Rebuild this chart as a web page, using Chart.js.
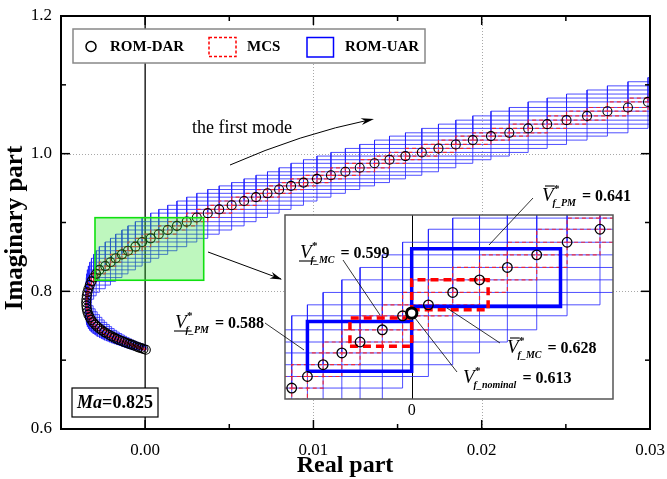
<!DOCTYPE html>
<html>
<head>
<meta charset="utf-8">
<script src="https://cdn.jsdelivr.net/npm/chart.js@4.4.1/dist/chart.umd.min.js"></script>
<style>
  html, body { margin: 0; padding: 0; background: #fff; }
  #wrap { position: relative; width: 667px; height: 479px; }
  #main { position: absolute; left: 0; top: 0; }
  #zoom { position: absolute; left: 150px; top: 170px; }
</style>
</head>
<body>
<div id="wrap">
  <canvas id="main" width="667" height="479"></canvas>
  <canvas id="zoom" width="500" height="260"></canvas>
</div>
<script>
// ROM-DAR eigenvalue trace of the first mode (Ma = 0.825), ordered by increasing velocity
const realPart = [
  0.00004, -0.00010, -0.00024, -0.00039, -0.00053, -0.00067, -0.00081, -0.00095, -0.00110, -0.00124,
  -0.00139, -0.00154, -0.00169, -0.00184, -0.00199, -0.00213, -0.00228, -0.00243, -0.00257, -0.00271,
  -0.00285, -0.00297, -0.00309, -0.00320, -0.00329, -0.00337, -0.00343, -0.00347, -0.00349, -0.00350,
  -0.00349, -0.00347, -0.00343, -0.00337, -0.00329, -0.00319, -0.00306, -0.00291, -0.00272,
  -0.00237, -0.00206, -0.00175, -0.00138, -0.00102, -0.00058, -0.00018, 0.00033, 0.00081, 0.00134,
  0.00189, 0.00247, 0.00307, 0.00372,
  0.00440, 0.00514, 0.00588, 0.00659, 0.00727, 0.00796, 0.00867, 0.00941, 0.01021, 0.01104,
  0.01190, 0.01275, 0.01363, 0.01452, 0.01547, 0.01644, 0.01743, 0.01846, 0.01947, 0.02055,
  0.02164, 0.02276, 0.02389, 0.02504, 0.02626, 0.02747, 0.02869, 0.02988,
  0.03108, 0.03228, 0.03348, 0.03468, 0.03588, 0.03708
];
const imagPart = [
  0.7152, 0.7163, 0.7175, 0.7186, 0.7199, 0.7213, 0.7226, 0.7237, 0.7249, 0.7263,
  0.7278, 0.7292, 0.7310, 0.7327, 0.7346, 0.7366, 0.7387, 0.7408, 0.7433, 0.7459,
  0.7487, 0.7517, 0.7549, 0.7584, 0.7622, 0.7661, 0.7703, 0.7746, 0.7791, 0.7838,
  0.7885, 0.7935, 0.7986, 0.8038, 0.8091, 0.8145, 0.8200, 0.8254, 0.8312,
  0.8367, 0.8423, 0.8480, 0.8537, 0.8590, 0.8649, 0.8717, 0.8770, 0.8830, 0.8891,
  0.8951, 0.9012, 0.9073, 0.9136,
  0.9190, 0.9250, 0.9312, 0.9368, 0.9424, 0.9479, 0.9532, 0.9580, 0.9634, 0.9686,
  0.9737, 0.9795, 0.9860, 0.9912, 0.9965, 1.0018, 1.0076, 1.0134, 1.0197, 1.0255,
  1.0303, 1.0367, 1.0429, 1.0487, 1.0549, 1.0617, 1.0671, 1.0752,
  1.0808, 1.0866, 1.0925, 1.0985, 1.1045, 1.1105
];

// Interval boxes reach this many DAR steps either side of their centre point
const uarReachReal = 3, uarReachImag = 3;
const mcsReachReal = 1, mcsReachImag = 1;

// Flutter-boundary boxes shown in the magnified view: [reMin, reMax, imMin, imMax]
const uarBoxLower = [-0.00206, 0, 0.8448, 0.8689];   // V*_f_PM lower bound
const uarBoxUpper = [0, 0.00294, 0.8762, 0.9041];    // V*_f_PM upper bound
const mcsBoxLower = [-0.00122, 0, 0.8569, 0.8706];   // V*_f_MC lower bound
const mcsBoxUpper = [0, 0.00151, 0.8746, 0.8891];    // V*_f_MC upper bound
const nominalPoint = [0, 0.8730];

// Flutter speeds labelled in the magnified view
const vPmLower = '0.588', vPmUpper = '0.641';
const vMcLower = '0.599', vMcUpper = '0.628';
const vNominal = '0.613';

// Axes
const xRange = [-0.005, 0.03];
const yRange = [0.6, 1.2];
const xTickValues = [0, 0.01, 0.02, 0.03];
const xTickLabels = ['0.00', '0.01', '0.02', '0.03'];
const xMinorTicks = [-0.005, 0.005, 0.015, 0.025];
const yTickValues = [0.6, 0.8, 1.0, 1.2];
const yTickLabels = ['0.6', '0.8', '1.0', '1.2'];
const yMinorTicks = [0.7, 0.9, 1.1];
const gridX = [0.01, 0.02];
const gridY = [0.8, 1.0];

// Region enlarged in the inset, and the inset's own axis limits
const zoomRegion = [-0.00298, 0.00348, 0.8161, 0.9070];
const insetX = [-0.002503, 0.003977];
const insetY = [0.8314, 0.9205];

const machLabel = '=0.825';
const modeLabel = 'the first mode';

const SERIF = '"Liberation Serif", "Times New Roman", serif';

function rectPts(b) {
  return [{x: b[0], y: b[2]}, {x: b[1], y: b[2]}, {x: b[1], y: b[3]}, {x: b[0], y: b[3]}, {x: b[0], y: b[2]}];
}

// Each interval box bounds the DAR points within the given reach of point i
function intervalBoxes(xs, ys, rx, ry) {
  const pts = [];
  const n = xs.length;
  for (let i = 0; i < n; i++) {
    let x0 = Infinity, x1 = -Infinity, y0 = Infinity, y1 = -Infinity;
    for (let j = Math.max(0, i - rx); j <= Math.min(n - 1, i + rx); j++) {
      x0 = Math.min(x0, xs[j]); x1 = Math.max(x1, xs[j]);
    }
    for (let j = Math.max(0, i - ry); j <= Math.min(n - 1, i + ry); j++) {
      y0 = Math.min(y0, ys[j]); y1 = Math.max(y1, ys[j]);
    }
    pts.push(...rectPts([x0, x1, y0, y1]), {x: null, y: null});
  }
  return pts;
}

const darPoints = realPart.map((v, i) => ({x: v, y: imagPart[i]}));
const uarBoxes = intervalBoxes(realPart, imagPart, uarReachReal, uarReachImag);
const mcsBoxes = intervalBoxes(realPart, imagPart, mcsReachReal, mcsReachImag);

function line(ctx, x0, y0, x1, y1) {
  ctx.beginPath(); ctx.moveTo(x0, y0); ctx.lineTo(x1, y1); ctx.stroke();
}
function arrowHead(ctx, x, y, dx, dy, len, half) {
  const l = Math.hypot(dx, dy); const ux = dx / l, uy = dy / l;
  ctx.beginPath();
  ctx.moveTo(x, y);
  ctx.lineTo(x - ux * len - uy * half, y - uy * len + ux * half);
  ctx.lineTo(x - ux * len * 0.7, y - uy * len * 0.7);
  ctx.lineTo(x - ux * len + uy * half, y - uy * len - ux * half);
  ctx.closePath(); ctx.fill();
}

const uarStyle = {borderColor: 'rgba(35,35,255,0.8)', borderWidth: 1};
const mcsStyle = {borderColor: 'rgba(255,30,30,0.85)', borderWidth: 1.2, borderDash: [4, 3]};

function boxDataset(label, data, style, order) {
  return Object.assign({
    label, data, showLine: true, pointRadius: 0, pointHoverRadius: 0, tension: 0,
    spanGaps: false, fill: false, clip: 0, order
  }, style);
}

const mainDecor = {
  id: 'mainDecor',
  beforeDatasetsDraw(chart) {
    const {ctx, chartArea: a, scales: {x, y}} = chart;
    ctx.save();
    ctx.strokeStyle = '#a8a8a8'; ctx.lineWidth = 1; ctx.setLineDash([1, 2]);
    gridX.forEach(v => { const p = Math.round(x.getPixelForValue(v)) + 0.5; line(ctx, p, a.top, p, a.bottom); });
    gridY.forEach(v => { const p = Math.round(y.getPixelForValue(v)) + 0.5; line(ctx, a.left, p, a.right, p); });
    ctx.setLineDash([]);
    ctx.strokeStyle = '#000'; ctx.lineWidth = 1.3;
    const z = x.getPixelForValue(0);
    line(ctx, z, a.top, z, a.bottom);
    ctx.restore();
  },
  afterDatasetsDraw(chart) {
    const {ctx, chartArea: a, scales: {x, y}} = chart;
    ctx.save();
    // enlarged region
    const gx0 = x.getPixelForValue(zoomRegion[0]), gx1 = x.getPixelForValue(zoomRegion[1]);
    const gy0 = y.getPixelForValue(zoomRegion[3]), gy1 = y.getPixelForValue(zoomRegion[2]);
    ctx.fillStyle = 'rgba(40,230,40,0.30)';
    ctx.fillRect(gx0, gy0, gx1 - gx0, gy1 - gy0);
    ctx.strokeStyle = '#10e010'; ctx.lineWidth = 1.6;
    ctx.strokeRect(gx0, gy0, gx1 - gx0, gy1 - gy0);

    // arrow to the inset
    ctx.strokeStyle = '#000'; ctx.fillStyle = '#000'; ctx.lineWidth = 1;
    line(ctx, 208, 252, 281, 279);
    arrowHead(ctx, 282, 279.4, 73, 27, 12, 3.5);

    // frame and inward ticks
    ctx.lineWidth = 2; ctx.strokeStyle = '#000';
    ctx.strokeRect(a.left, a.top, a.right - a.left, a.bottom - a.top);
    ctx.lineWidth = 1.5;
    const tick = (vals, len) => {
      vals.forEach(v => {
        const p = x.getPixelForValue(v);
        line(ctx, p, a.bottom, p, a.bottom - len);
        line(ctx, p, a.top, p, a.top + len);
      });
    };
    const tickY = (vals, len) => {
      vals.forEach(v => {
        const p = y.getPixelForValue(v);
        line(ctx, a.left, p, a.left + len, p);
        line(ctx, a.right, p, a.right - len, p);
      });
    };
    tick(xTickValues, 9); tick(xMinorTicks, 5);
    tickY(yTickValues, 9); tickY(yMinorTicks, 5);

    // tick labels
    ctx.fillStyle = '#000';
    ctx.font = '17px ' + SERIF;
    ctx.textAlign = 'center'; ctx.textBaseline = 'middle';
    xTickValues.forEach((v, i) => ctx.fillText(xTickLabels[i], x.getPixelForValue(v), a.bottom + 22));
    ctx.textAlign = 'right';
    yTickValues.forEach((v, i) => ctx.fillText(yTickLabels[i], a.left - 9, y.getPixelForValue(v)));

    // axis titles
    ctx.textAlign = 'center';
    ctx.font = 'bold 24px ' + SERIF;
    ctx.fillText('Real part', 345, 466);
    ctx.save();
    ctx.font = 'bold 25px ' + SERIF;
    ctx.translate(16, 228); ctx.rotate(-Math.PI / 2);
    ctx.fillText('Imaginary part', 0, 0);
    ctx.restore();

    // legend
    const ds = chart.data.datasets;
    ctx.fillStyle = '#fff'; ctx.fillRect(73, 29, 352, 34);
    ctx.strokeStyle = '#888'; ctx.lineWidth = 1.5; ctx.strokeRect(73, 29, 352, 34);
    ctx.strokeStyle = '#000'; ctx.lineWidth = 1.5;
    ctx.beginPath(); ctx.arc(91, 46.5, 5, 0, Math.PI * 2); ctx.stroke();
    ctx.strokeStyle = '#ff0000'; ctx.setLineDash([3, 2]);
    ctx.strokeRect(209, 37.5, 27, 19);
    ctx.setLineDash([]);
    ctx.strokeStyle = '#0000ff';
    ctx.strokeRect(307, 37.5, 26.5, 19.5);
    ctx.fillStyle = '#000'; ctx.font = 'bold 15px ' + SERIF;
    ctx.textAlign = 'left'; ctx.textBaseline = 'middle';
    ctx.fillText(ds[2].label, 110, 47);
    ctx.fillText(ds[1].label, 247, 47);
    ctx.fillText(ds[0].label, 345, 47);

    // Mach number box
    ctx.fillStyle = '#fff'; ctx.fillRect(72, 388, 86, 29);
    ctx.strokeStyle = '#000'; ctx.lineWidth = 1.2; ctx.strokeRect(72, 388, 86, 29);
    ctx.fillStyle = '#000';
    ctx.font = 'italic bold 18px ' + SERIF;
    const mw = ctx.measureText('Ma').width;
    ctx.font = 'bold 18px ' + SERIF;
    const vw = ctx.measureText(machLabel).width;
    const sx = 115 - (mw + vw) / 2;
    ctx.font = 'italic bold 18px ' + SERIF;
    ctx.fillText('Ma', sx, 403);
    ctx.font = 'bold 18px ' + SERIF;
    ctx.fillText(machLabel, sx + mw, 403);

    // mode annotation
    ctx.font = '18px ' + SERIF; ctx.textAlign = 'center';
    ctx.fillText(modeLabel, 242, 128);
    ctx.lineWidth = 1; ctx.strokeStyle = '#000';
    ctx.beginPath(); ctx.moveTo(230, 165); ctx.quadraticCurveTo(300, 134, 371, 119.5); ctx.stroke();
    arrowHead(ctx, 374, 119, 71, -14.5, 13, 3.5);
    ctx.restore();
  }
};

new Chart(document.getElementById('main'), {
  type: 'scatter',
  data: {
    datasets: [
      boxDataset('ROM-UAR', uarBoxes, uarStyle, 3),
      boxDataset('MCS', mcsBoxes, mcsStyle, 2),
      {
        label: 'ROM-DAR', data: darPoints, showLine: false, pointStyle: 'circle',
        pointRadius: 4.5, pointBorderWidth: 1.1, pointBorderColor: '#000',
        pointBackgroundColor: 'rgba(0,0,0,0)', clip: 0, order: 1
      }
    ]
  },
  options: {
    responsive: false, animation: false,
    layout: {padding: {left: 61, top: 16, right: 17, bottom: 50}},
    scales: {
      x: {type: 'linear', min: xRange[0], max: xRange[1], display: false},
      y: {type: 'linear', min: yRange[0], max: yRange[1], display: false}
    },
    plugins: {legend: {display: false}, tooltip: {enabled: false}}
  },
  plugins: [mainDecor]
});

// ---- magnified view around the nominal flutter point ----
function flutterLabel(ctx, x, y, mark, sub, val) {
  ctx.save();
  ctx.fillStyle = '#000'; ctx.strokeStyle = '#000';
  ctx.textAlign = 'left'; ctx.textBaseline = 'alphabetic';
  ctx.font = 'italic 19px ' + SERIF;
  ctx.fillText('V', x, y);
  const vw = ctx.measureText('V').width;
  ctx.lineWidth = 1.1;
  if (mark === 'over') line(ctx, x + 3, y - 15, x + vw + 1, y - 15);
  if (mark === 'under') line(ctx, x - 1, y + 3, x + vw + 5, y + 3);
  ctx.font = 'bold 11px ' + SERIF;
  ctx.fillText('*', x + vw + 0.5, y - 9);
  ctx.font = 'italic bold 10px ' + SERIF;
  ctx.fillText(sub, x + vw - 1, y + 5);
  const sw = ctx.measureText(sub).width;
  ctx.font = 'bold 16px ' + SERIF;
  ctx.fillText('= ' + val, x + vw + sw + 5, y);
  ctx.restore();
}

const insetDecor = {
  id: 'insetDecor',
  beforeDatasetsDraw(chart) {
    const {ctx, chartArea: a, scales: {x}} = chart;
    ctx.save();
    ctx.fillStyle = '#fff';
    ctx.fillRect(a.left, a.top, a.right - a.left, a.bottom - a.top);
    ctx.strokeStyle = '#000'; ctx.lineWidth = 1;
    const z = Math.round(x.getPixelForValue(0)) + 0.5;
    line(ctx, z, a.top, z, a.bottom);
    ctx.restore();
  },
  afterDatasetsDraw(chart) {
    const {ctx, chartArea: a, scales: {x}} = chart;
    ctx.save();
    ctx.strokeStyle = '#555'; ctx.lineWidth = 1.5;
    ctx.strokeRect(a.left, a.top, a.right - a.left, a.bottom - a.top);
    ctx.fillStyle = '#000'; ctx.font = '16px ' + SERIF;
    ctx.textAlign = 'center'; ctx.textBaseline = 'middle';
    ctx.fillText('0', x.getPixelForValue(0), a.bottom + 12);

    ctx.strokeStyle = '#000'; ctx.lineWidth = 0.8;
    line(ctx, 383, 28, 339, 75);
    line(ctx, 193, 90, 230, 145);
    line(ctx, 115, 153, 154, 180);
    line(ctx, 350, 173, 297, 138);
    line(ctx, 307, 202, 265, 148);

    flutterLabel(ctx, 392, 31, 'over', 'f_PM', vPmUpper);
    flutterLabel(ctx, 150, 88, 'under', 'f_MC', vMcLower);
    flutterLabel(ctx, 25, 158, 'under', 'f_PM', vPmLower);
    flutterLabel(ctx, 357, 183, 'over', 'f_MC', vMcUpper);
    flutterLabel(ctx, 313, 213, null, 'f_nominal', vNominal);
    ctx.restore();
  }
};

new Chart(document.getElementById('zoom'), {
  type: 'scatter',
  data: {
    datasets: [
      boxDataset('ROM-UAR', uarBoxes, uarStyle, 6),
      boxDataset('MCS', mcsBoxes, mcsStyle, 5),
      boxDataset('ROM-UAR bound', rectPts(uarBoxLower).concat([{x: null, y: null}], rectPts(uarBoxUpper)),
        {borderColor: '#0000ff', borderWidth: 3.5}, 4),
      boxDataset('MCS bound', rectPts(mcsBoxLower).concat([{x: null, y: null}], rectPts(mcsBoxUpper)),
        {borderColor: '#ff0000', borderWidth: 3.5, borderDash: [8, 5]}, 3),
      {
        label: 'ROM-DAR', data: darPoints, showLine: false, pointStyle: 'circle',
        pointRadius: 4.8, pointBorderWidth: 1.3, pointBorderColor: '#000',
        pointBackgroundColor: 'rgba(0,0,0,0)', clip: 0, order: 2
      },
      {
        label: 'Nominal', data: [{x: nominalPoint[0], y: nominalPoint[1]}], showLine: false,
        pointRadius: 5.2, pointBorderWidth: 3, pointBorderColor: '#000',
        pointBackgroundColor: '#fff', clip: 0, order: 1
      }
    ]
  },
  options: {
    responsive: false, animation: false,
    layout: {padding: {left: 135, top: 45, right: 37, bottom: 31}},
    scales: {
      x: {type: 'linear', min: insetX[0], max: insetX[1], display: false},
      y: {type: 'linear', min: insetY[0], max: insetY[1], display: false}
    },
    plugins: {legend: {display: false}, tooltip: {enabled: false}}
  },
  plugins: [insetDecor]
});
</script>
</body>
</html>
